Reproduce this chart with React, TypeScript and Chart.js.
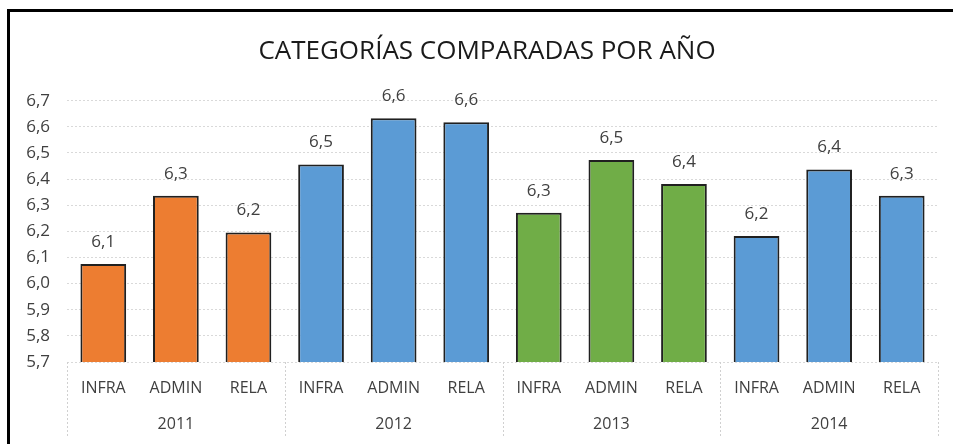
import React, { useEffect, useRef } from "react";
import { Chart, registerables } from "chart.js";

Chart.register(...registerables);

const years = ["2011", "2012", "2013", "2014"];
const categories = ["INFRA", "ADMIN", "RELA"];
const values2011 = [6.075, 6.336, 6.196];
const values2012 = [6.456, 6.633, 6.618];
const values2013 = [6.271, 6.473, 6.381];
const values2014 = [6.182, 6.437, 6.336];
const yearColors = ["#ED7D31", "#5B9BD5", "#70AD47", "#5B9BD5"];
const yTickMin = 5.7;
const yTickMax = 6.7;
const yTickStep = 0.1;
const titleText = "CATEGORÍAS COMPARADAS POR AÑO";

const FONT = "'Open Sans', 'DejaVu Sans', sans-serif";

const fmt = (v: number) => v.toFixed(1).replace(".", ",");

const groupSeparators = {
  id: "groupSeparators",
  afterDraw(chart: any) {
    const x2 = chart.scales.x2;
    const area = chart.chartArea;
    if (!x2) return;
    const ctx = chart.ctx;
    ctx.save();
    ctx.strokeStyle = "#D0D0D0";
    ctx.lineWidth = 1;
    ctx.setLineDash([2, 2]);
    for (let i = 0; i <= x2.ticks.length; i++) {
      const px = Math.round(x2.getPixelForValue(i - 0.5)) + 0.5;
      ctx.beginPath();
      ctx.moveTo(px, area.bottom);
      ctx.lineTo(px, x2.bottom);
      ctx.stroke();
    }
    ctx.restore();
  },
};

const dataLabels = {
  id: "dataLabels",
  afterDatasetsDraw(chart: any) {
    const ctx = chart.ctx;
    ctx.save();
    ctx.font = `17px ${FONT}`;
    ctx.fillStyle = "#404040";
    ctx.textAlign = "center";
    ctx.textBaseline = "middle";
    chart.data.datasets.forEach((ds: any, di: number) => {
      const meta = chart.getDatasetMeta(di);
      meta.data.forEach((bar: any, i: number) => {
        ctx.fillText(fmt(ds.data[i]), bar.x, bar.y - 22);
      });
    });
    ctx.restore();
  },
};

export default function App() {
  const ref = useRef<HTMLCanvasElement | null>(null);

  useEffect(() => {
    if (!ref.current) return;
    const labels: string[] = [];
    const data: number[] = [];
    const colors: string[] = [];
    const series = [values2011, values2012, values2013, values2014];
    series.forEach((vals, yi) => {
      vals.forEach((v, ci) => {
        labels.push(categories[ci]);
        data.push(v);
        colors.push(yearColors[yi]);
      });
    });

    const chart = new Chart(ref.current, {
      type: "bar",
      data: {
        labels,
        datasets: [
          {
            data,
            backgroundColor: colors,
            borderColor: "#202020",
            borderWidth: 2,
            barPercentage: 0.63,
            categoryPercentage: 1,
          },
        ],
      },
      options: {
        animation: false,
        responsive: false,
        layout: { padding: { left: 11, right: 0, top: 0, bottom: 7 } },
        plugins: {
          legend: { display: false },
          tooltip: { enabled: false },
          title: {
            display: true,
            text: titleText,
            color: "#1a1a1a",
            font: { family: FONT, size: 26, weight: "normal" as any },
            padding: { top: 24, bottom: 33.5 },
          },
        },
        scales: {
          y: {
            min: yTickMin,
            max: yTickMax,
            ticks: {
              stepSize: yTickStep,
              color: "#404040",
              font: { family: FONT, size: 17 },
              padding: 17,
              callback: (v: any) => fmt(Number(v)),
            },
            grid: { color: "#D9D9D9", drawTicks: false },
            border: { display: false, dash: [2, 2] },
            afterFit: (s: any) => {
              s.width = 46;
            },
          },
          y2: {
            type: "linear",
            position: "right",
            display: true,
            grid: { display: false, drawTicks: false },
            border: { display: false },
            ticks: { display: false },
            afterFit: (s: any) => {
              s.width = 15;
            },
          },
          x: {
            weight: 0,
            grid: { display: false, drawTicks: false },
            border: { display: false },
            ticks: {
              color: "#404040",
              font: { family: FONT, size: 16 },
              padding: 17,
              autoSkip: false,
              maxRotation: 0,
            },
            afterFit: (s: any) => {
              s.height = 43;
            },
          },
          x2: {
            type: "category",
            labels: years,
            position: "bottom",
            offset: true,
            weight: 1,
            grid: { display: false, drawTicks: false },
            border: { display: false },
            ticks: {
              color: "#404040",
              font: { family: FONT, size: 16 },
              padding: 10,
              maxRotation: 0,
            },
            afterFit: (s: any) => {
              s.height = 32;
            },
          },
        },
      } as any,
      plugins: [groupSeparators, dataLabels],
    });
    return () => chart.destroy();
  }, []);

  return (
    <div
      style={{
        position: "absolute",
        left: 7,
        top: 9,
        width: 946,
        height: 435,
        boxSizing: "border-box",
        borderTop: "3px solid #000",
        borderLeft: "3px solid #000",
        background: "#fff",
        overflow: "hidden",
      }}
    >
      <canvas ref={ref} width={943} height={432} style={{ display: "block" }} />
    </div>
  );
}
